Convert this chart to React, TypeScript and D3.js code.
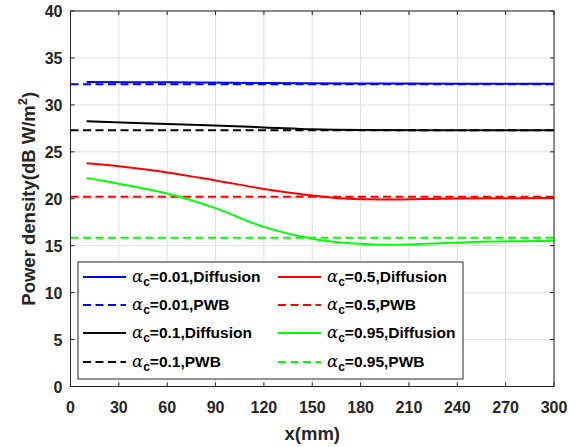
import React from "react";
import * as d3 from "d3";

const xTicks = [0, 30, 60, 90, 120, 150, 180, 210, 240, 270, 300];
const yTicks = [0, 5, 10, 15, 20, 25, 30, 35, 40];

const blueDiffX = [10, 60, 120, 180, 240, 300];
const blueDiffY = [32.45, 32.4, 32.33, 32.28, 32.25, 32.24];
const blackDiffX = [10, 60, 120, 150, 180, 240, 300];
const blackDiffY = [28.25, 27.97, 27.6, 27.4, 27.32, 27.3, 27.3];
const redDiffX = [10, 30, 60, 90, 120, 150, 170, 200, 230, 260, 300];
const redDiffY = [23.77, 23.45, 22.8, 21.95, 21.05, 20.35, 20.02, 19.92, 20.0, 20.05, 20.07];
const greenDiffX = [10, 30, 60, 90, 120, 150, 170, 195, 220, 250, 300];
const greenDiffY = [22.2, 21.6, 20.55, 19.0, 17.0, 15.75, 15.3, 15.1, 15.2, 15.4, 15.53];

const pwbX = [0, 300];
const bluePwbY = [32.2, 32.2];
const blackPwbY = [27.3, 27.3];
const redPwbY = [20.2, 20.2];
const greenPwbY = [15.85, 15.85];

const legendLabels = [
  ["0.01", "Diffusion"],
  ["0.01", "PWB"],
  ["0.1", "Diffusion"],
  ["0.1", "PWB"],
  ["0.5", "Diffusion"],
  ["0.5", "PWB"],
  ["0.95", "Diffusion"],
  ["0.95", "PWB"],
];

const W = 584;
const H = 447;
const L = 70.5;
const R = 554;
const T = 11;
const B = 386.5;
const AX = "#262626";
const FONT = "'Liberation Sans', Arial, sans-serif";

export default function App() {
  const x = d3.scaleLinear().domain([0, 300]).range([L, R]);
  const y = d3.scaleLinear().domain([0, 40]).range([B, T]);
  const line = d3
    .line<[number, number]>()
    .x((d) => x(d[0]))
    .y((d) => y(d[1]))
    .curve(d3.curveCatmullRom.alpha(0.5));
  const zip = (xs: number[], ys: number[]) => xs.map((v, i) => [v, ys[i]] as [number, number]);

  const series = [
    { xs: blueDiffX, ys: blueDiffY, color: "#0000ff", dash: false },
    { xs: pwbX, ys: bluePwbY, color: "#0000ff", dash: true },
    { xs: blackDiffX, ys: blackDiffY, color: "#000000", dash: false },
    { xs: pwbX, ys: blackPwbY, color: "#000000", dash: true },
    { xs: redDiffX, ys: redDiffY, color: "#ff0000", dash: false },
    { xs: pwbX, ys: redPwbY, color: "#ff0000", dash: true },
    { xs: greenDiffX, ys: greenDiffY, color: "#00ff00", dash: false },
    { xs: pwbX, ys: greenPwbY, color: "#00ff00", dash: true },
  ];

  const lgL = 78, lgT = 262, lgR = 463, lgB = 379;
  const rowY = [277, 305, 333, 362];
  const colX = [83, 278];

  return (
    <svg width={W} height={H} style={{ position: "absolute", left: 0, top: 0, background: "#fff" }} fontFamily={FONT}>
      <rect x={0} y={0} width={W} height={H} fill="#fff" />
      {xTicks.map((t) => (
        <line key={"gx" + t} x1={x(t)} x2={x(t)} y1={T} y2={B} stroke="#dfdfdf" strokeWidth={1} />
      ))}
      {yTicks.map((t) => (
        <line key={"gy" + t} x1={L} x2={R} y1={y(t)} y2={y(t)} stroke="#dfdfdf" strokeWidth={1} />
      ))}
      {series.map((s, i) => (
        <path
          key={"s" + i}
          d={line(zip(s.xs, s.ys)) || ""}
          fill="none"
          stroke={s.color}
          strokeWidth={2}
          strokeDasharray={s.dash ? "8,4.5" : undefined}
        />
      ))}
      <rect x={L} y={T} width={R - L} height={B - T} fill="none" stroke={AX} strokeWidth={1} />
      {xTicks.map((t) => (
        <g key={"tx" + t}>
          <line x1={x(t)} x2={x(t)} y1={B} y2={B - 4} stroke={AX} />
          <line x1={x(t)} x2={x(t)} y1={T} y2={T + 4} stroke={AX} />
          <text x={x(t)} y={413} textAnchor="middle" fontSize={16} fontWeight="bold" fill={AX}>
            {t}
          </text>
        </g>
      ))}
      {yTicks.map((t) => (
        <g key={"ty" + t}>
          <line x1={L} x2={L + 4} y1={y(t)} y2={y(t)} stroke={AX} />
          <line x1={R} x2={R - 4} y1={y(t)} y2={y(t)} stroke={AX} />
          <text x={62.5} y={y(t) + 6} textAnchor="end" fontSize={16} fontWeight="bold" fill={AX}>
            {t}
          </text>
        </g>
      ))}
      <text x={(L + R) / 2} y={440} textAnchor="middle" fontSize={18.5} fontWeight="bold" fill={AX}>
        x(mm)
      </text>
      <text
        transform={`translate(35,${(T + B) / 2}) rotate(-90)`}
        textAnchor="middle"
        fontSize={18.5}
        fontWeight="bold"
        fill={AX}
      >
        Power density(dB W/m<tspan dy={-8} fontSize={13}>2</tspan>
        <tspan dy={8}>)</tspan>
      </text>
      <rect x={lgL} y={lgT} width={lgR - lgL} height={lgB - lgT} fill="#fff" stroke={AX} strokeWidth={1} />
      {series.map((s, i) => {
        const col = Math.floor(i / 4);
        const row = i % 4;
        const lx = colX[col];
        const ly = rowY[row];
        return (
          <g key={"lg" + i}>
            <line
              x1={lx}
              x2={lx + 43}
              y1={ly}
              y2={ly}
              stroke={s.color}
              strokeWidth={2}
              strokeDasharray={s.dash ? "8,4.5" : undefined}
            />
            <text x={lx + 49} y={ly + 5} fontSize={15.5} fontWeight="bold" fill="#000">
              <tspan fontFamily="'DejaVu Serif', serif" fontStyle="italic" fontWeight="normal" fontSize={16.5}>α</tspan>
              <tspan dy={4} fontSize={12}>c</tspan>
              <tspan dy={-4}>{"=" + legendLabels[i][0] + "," + legendLabels[i][1]}</tspan>
            </text>
          </g>
        );
      })}
    </svg>
  );
}
